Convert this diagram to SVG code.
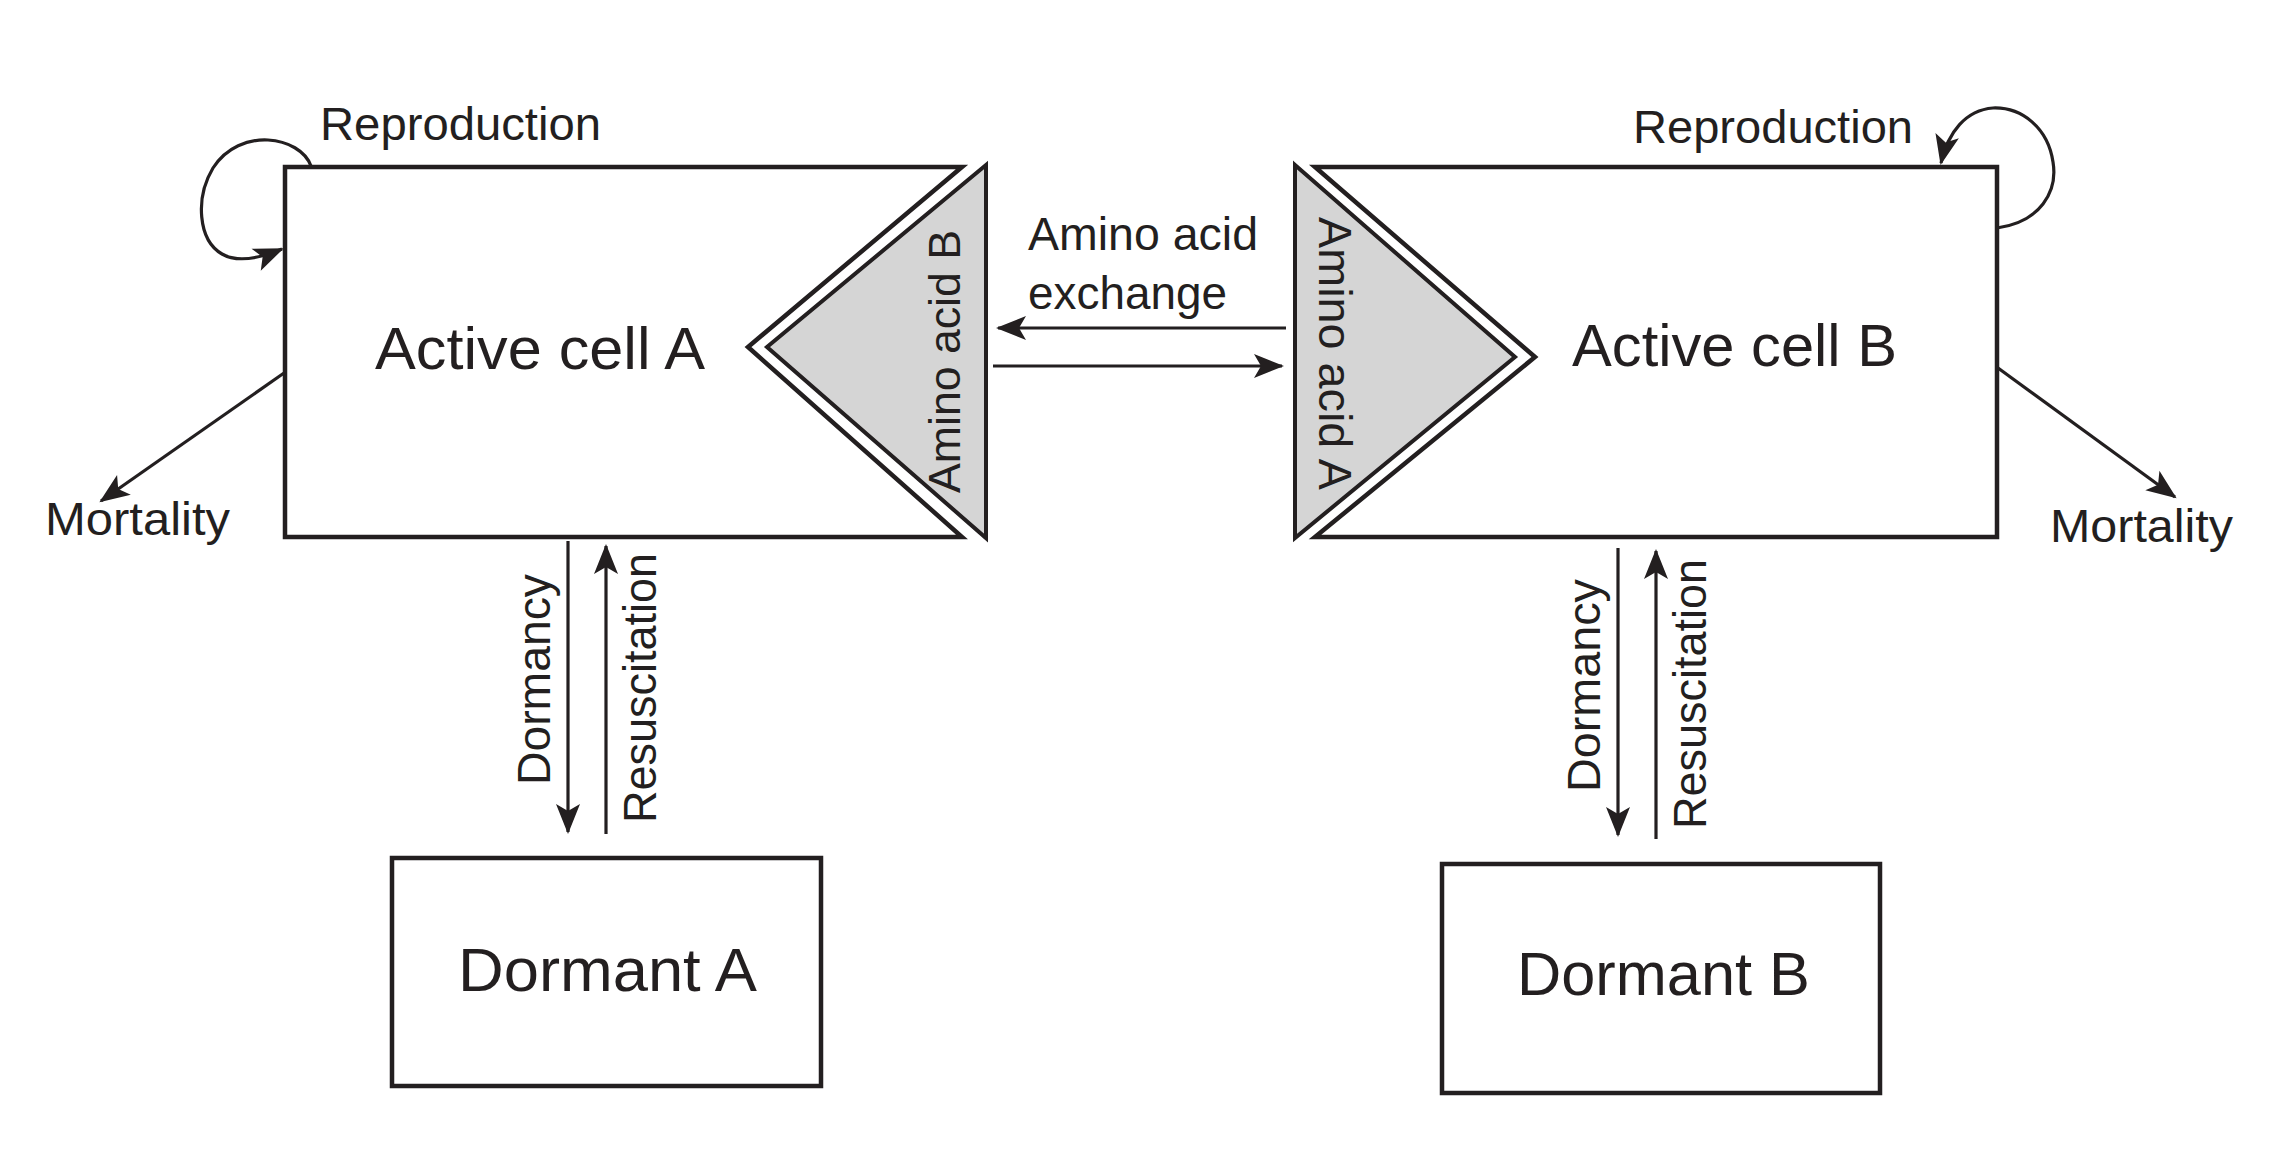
<svg xmlns="http://www.w3.org/2000/svg" width="2291" height="1174" viewBox="0 0 2291 1174">
<style>
text{font-family:"Liberation Sans",Arial,sans-serif;fill:#231f20}
.box{fill:#fff;stroke:#231f20;stroke-width:4.5;stroke-linejoin:miter}
.aa{fill:#d5d5d5;stroke:#231f20;stroke-width:4}
.con{fill:none;stroke:#231f20;stroke-width:3.2;marker-end:url(#ah)}
.big{font-size:60px}
.mid{font-size:46px}
</style>
<defs>
<marker id="ah" markerUnits="userSpaceOnUse" markerWidth="40" markerHeight="40" refX="0" refY="0" orient="auto" overflow="visible">
<path d="M2,0 L-28,-12 L-21,0 L-28,12 Z" fill="#231f20"/>
</marker>
</defs>
<rect width="2291" height="1174" fill="#fff"/>

<g id="active-cell-a">
<polygon class="box" points="285,167 962,167 748,347 962,537 285,537"/>
<polygon class="aa" points="986,165 767,347 986,538"/>
<text class="big" x="375" y="369" textLength="330" lengthAdjust="spacingAndGlyphs">Active cell A</text>
<text class="mid" style="font-size:45px" transform="translate(960,493) rotate(-90)" textLength="263" lengthAdjust="spacingAndGlyphs">Amino acid B</text>
</g>

<g id="active-cell-b">
<polygon class="box" points="1315,167 1997,167 1997,537 1315,537 1535,357"/>
<polygon class="aa" points="1295,165 1515,357 1295,538"/>
<text class="big" x="1572" y="366" textLength="325" lengthAdjust="spacingAndGlyphs">Active cell B</text>
<text class="mid" transform="translate(1319,217) rotate(90)" textLength="273" lengthAdjust="spacingAndGlyphs">Amino acid A</text>
</g>

<g id="dormant-a">
<rect class="box" x="392" y="858" width="429" height="228"/>
<text x="458" y="991" style="font-size:62px" textLength="299" lengthAdjust="spacingAndGlyphs">Dormant A</text>
</g>

<g id="dormant-b">
<rect class="box" x="1442" y="864" width="438" height="229"/>
<text x="1517" y="995" style="font-size:62px" textLength="293" lengthAdjust="spacingAndGlyphs">Dormant B</text>
</g>

<g id="connectors">
<path class="con" d="M311,166 C300,136 240,126 213,168 C195,198 198,240 222,254 C236,262 258,259 282,249"/>
<path class="con" d="M1997,228 C2040,222 2058,192 2053,162 C2048,128 2022,107 1993,108 C1966,110 1948,132 1941,163"/>
<line class="con" x1="284" y1="373" x2="101" y2="501"/>
<line class="con" x1="1998" y1="368" x2="2175" y2="497"/>
<line class="con" x1="1286" y1="328" x2="998" y2="328"/>
<line class="con" x1="993" y1="366" x2="1282" y2="366"/>
<line class="con" x1="568" y1="541" x2="568" y2="832"/>
<line class="con" x1="606" y1="834" x2="606" y2="546"/>
<line class="con" x1="1618" y1="548" x2="1618" y2="835"/>
<line class="con" x1="1656" y1="839" x2="1656" y2="551"/>
</g>

<g id="labels">
<text class="mid" x="320" y="140" textLength="281" lengthAdjust="spacingAndGlyphs">Reproduction</text>
<text class="mid" x="1633" y="143" textLength="280" lengthAdjust="spacingAndGlyphs">Reproduction</text>
<text class="mid" x="45" y="535" textLength="185" lengthAdjust="spacingAndGlyphs">Mortality</text>
<text class="mid" x="2050" y="542" textLength="183" lengthAdjust="spacingAndGlyphs">Mortality</text>
<text class="mid" x="1028" y="250" textLength="230" lengthAdjust="spacingAndGlyphs">Amino acid</text>
<text class="mid" x="1028" y="309" textLength="199" lengthAdjust="spacingAndGlyphs">exchange</text>
<text class="mid" transform="translate(550,785) rotate(-90)" textLength="211" lengthAdjust="spacingAndGlyphs">Dormancy</text>
<text class="mid" transform="translate(656,823) rotate(-90)" textLength="270" lengthAdjust="spacingAndGlyphs">Resuscitation</text>
<text class="mid" transform="translate(1600,792) rotate(-90)" textLength="213" lengthAdjust="spacingAndGlyphs">Dormancy</text>
<text class="mid" transform="translate(1706,829) rotate(-90)" textLength="270" lengthAdjust="spacingAndGlyphs">Resuscitation</text>
</g>
</svg>
